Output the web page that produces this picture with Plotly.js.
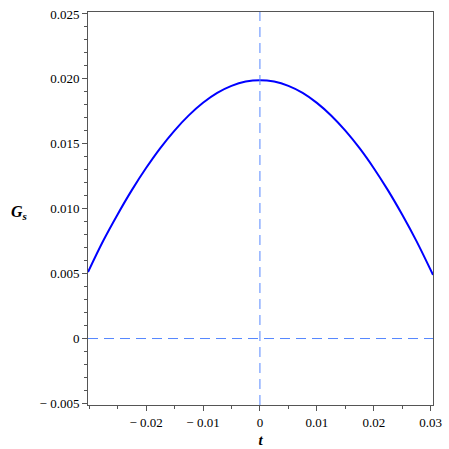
<!DOCTYPE html>
<html>
<head>
<meta charset="utf-8">
<script src="https://cdn.plot.ly/plotly-3.0.1.min.js"></script>
<style>
  body { margin: 0; background: #fff; }
  #plot { width: 449px; height: 449px; }
</style>
</head>
<body>
<div id="plot"></div>
<script>
// values
var tVals = [-0.0302, -0.0275, -0.025, -0.0225, -0.02, -0.0175, -0.015, -0.0125,
             -0.01, -0.0075, -0.005, -0.0025, 0, 0.0025, 0.005, 0.0075, 0.01,
             0.0125, 0.015, 0.0175, 0.02, 0.0225, 0.025, 0.0275, 0.0304];
var gsVals = [0.00512, 0.00755, 0.00956, 0.01143, 0.01313, 0.01467, 0.01602, 0.01719,
              0.01816, 0.01892, 0.01946, 0.01979, 0.01990, 0.01979, 0.01946, 0.01892, 0.01815,
              0.01718, 0.01601, 0.01466, 0.01312, 0.01141, 0.00953, 0.00750, 0.00490];

var xTickVals = [-0.02, -0.01, 0, 0.01, 0.02, 0.03];
var xTickText = ['\u2212 0.02', '\u2212 0.01', '0', '0.01', '0.02', '0.03'];
var yTickVals = [-0.005, 0, 0.005, 0.010, 0.015, 0.020, 0.025];
var yTickText = ['\u2212 0.005', '0', '0.005', '0.010', '0.015', '0.020', '0.025'];

var curve = {
    x: tVals,
    y: gsVals,
    type: 'scatter',
    mode: 'lines',
    line: { color: 'rgb(0, 0, 255)', width: 2, shape: 'spline', smoothing: 1 },
    hoverinfo: 'x+y'
};

var serif = '"Liberation Serif", "Times New Roman", serif';
var dashBlue = 'rgb(85, 135, 255)';
var axisGray = '#555';

var layout = {
    width: 449,
    height: 449,
    margin: { l: 88, r: 16, t: 12, b: 44 },
    paper_bgcolor: 'white',
    plot_bgcolor: 'white',
    showlegend: false,
    font: { family: serif, size: 13, color: 'black' },
    xaxis: {
        range: [-0.0302, 0.0304],
        tickvals: xTickVals,
        ticktext: xTickText,
        tickfont: { family: serif, size: 13, color: 'black' },
        ticks: 'outside',
        ticklen: 5,
        tickcolor: axisGray,
        showgrid: false,
        zeroline: false,
        showline: true,
        linecolor: axisGray,
        mirror: true,
        minor: { dtick: 0.005, ticks: 'outside', ticklen: 3, tickcolor: axisGray, showgrid: false },
        title: { text: '<b><i>t</i></b>', font: { family: serif, size: 15 }, standoff: 5 }
    },
    yaxis: {
        range: [-0.00512, 0.02515],
        tickvals: yTickVals,
        ticktext: yTickText,
        tickfont: { family: serif, size: 13, color: 'black' },
        ticks: 'outside',
        ticklen: 5,
        tickcolor: axisGray,
        showgrid: false,
        zeroline: false,
        showline: true,
        linecolor: axisGray,
        mirror: true,
        minor: { dtick: 0.001, ticks: 'outside', ticklen: 3, tickcolor: axisGray, showgrid: false }
    },
    shapes: [
        { type: 'line', xref: 'x', yref: 'paper', x0: 0, x1: 0, y0: 0, y1: 1,
          line: { color: dashBlue, width: 1, dash: '10px,6px' } },
        { type: 'line', xref: 'paper', yref: 'y', x0: 0, x1: 1, y0: 0, y1: 0,
          line: { color: dashBlue, width: 1, dash: '10px,6px' } }
    ],
    annotations: [
        { text: '<b><i>G<sub>s</sub></i></b>', xref: 'paper', yref: 'paper',
          x: -0.2, y: 0.49, showarrow: false, xanchor: 'center',
          font: { family: serif, size: 16 } }
    ]
};

Plotly.newPlot('plot', [curve], layout, { displayModeBar: false, staticPlot: true });
</script>
</body>
</html>
